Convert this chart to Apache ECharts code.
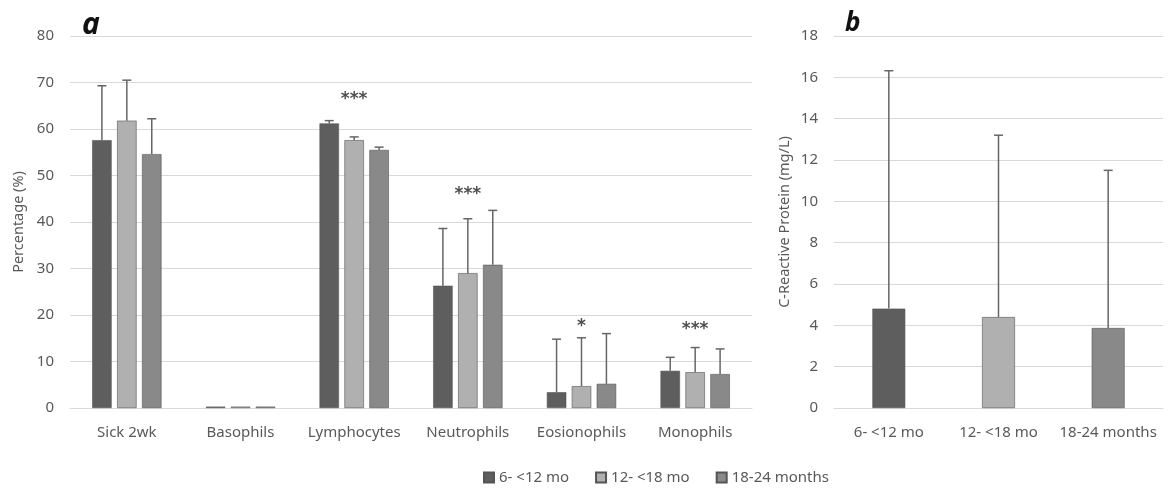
<!DOCTYPE html>
<html>
<head>
<meta charset="utf-8">
<script src="https://cdn.jsdelivr.net/npm/echarts@6/dist/echarts.min.js"></script>
<style>html,body{margin:0;padding:0;background:#fff}#c{width:1171px;height:489px}</style>
</head>
<body>
<div id="c"></div>
<script>
// ---- Data ----
const cellTypes = ['Sick 2wk','Basophils','Lymphocytes','Neutrophils','Eosionophils','Monophils'];
const groups = ['6- <12 mo','12- <18 mo','18-24 months'];
const mean6_12   = [57.6, 0.3, 61.2, 26.3, 3.4, 8.0];
const upper6_12  = [69.3, 0.3, 61.8, 38.6, 14.8, 10.9];
const mean12_18  = [61.8, 0.3, 57.6, 29.0, 4.7, 7.7];
const upper12_18 = [70.5, 0.3, 58.3, 40.7, 15.1, 13.0];
const mean18_24  = [54.6, 0.3, 55.5, 30.8, 5.2, 7.3];
const upper18_24 = [62.2, 0.3, 56.1, 42.5, 16.0, 12.7];
const sigCategories = ['Lymphocytes','Neutrophils','Eosionophils','Monophils'];
const sigMarks = ['***','***','*','***'];
const sigLevels = [66.3, 46.0, 17.6, 16.9];
const crpMean  = [4.81, 4.40, 3.87];
const crpUpper = [16.32, 13.2, 11.5];
const pctTicks = {min:0, max:80, interval:10};
const crpTicks = {min:0, max:18, interval:2};

const colors = ['#5e5e5e','#b0b0b0','#898989'];
const CAT_GAP = 0.39, BAR_GAP = 0.28;
const FONT = '"Noto Sans", "Open Sans", sans-serif';

function errSeries(name, upper, means, idx, n, xi, yi, catGap, barGap) {
  const data = means.map((m,i)=>[i, m, upper[i]]);
  return {
    type:'custom', name: name + ' err', xAxisIndex:xi, yAxisIndex:yi, z:5, silent:true,
    data,
    renderItem(params, api) {
      const band = api.size([1,0])[0];
      const usable = band*(1-catGap);
      const bw = usable/(n + (n-1)*barGap);
      const start = -usable/2;
      const off = start + idx*bw*(1+barGap) + bw/2;
      const c = api.coord([api.value(0), api.value(1)]);
      const t = api.coord([api.value(0), api.value(2)]);
      const x = c[0] + off;
      if (Math.abs(c[1]-t[1]) < 1) return null;
      return {type:'group', children:[
        {type:'line', shape:{x1:x,y1:c[1],x2:x,y2:t[1]}, style:{stroke:'#666',lineWidth:1.5}},
        {type:'line', shape:{x1:x-4.5,y1:t[1],x2:x+4.5,y2:t[1]}, style:{stroke:'#666',lineWidth:1.5}}
      ]};
    }
  };
}

const axisLabel = {color:'#595959', fontSize:15, fontFamily:FONT};
const series = [];
const means = [mean6_12, mean12_18, mean18_24];
const uppers = [upper6_12, upper12_18, upper18_24];
groups.forEach((g,i)=>{
  series.push({type:'bar', name:g, xAxisIndex:0, yAxisIndex:0, data:means[i],
    barGap:(BAR_GAP*100)+'%', barCategoryGap:(CAT_GAP*100)+'%',
    itemStyle:{color:colors[i], borderColor:'#555', borderWidth:0.6}});
});
groups.forEach((g,i)=>{
  series.push(errSeries(g, uppers[i], means[i], i, 3, 0, 0, CAT_GAP, BAR_GAP));
});
series.push({type:'scatter', xAxisIndex:0, yAxisIndex:0, symbolSize:0, silent:true, z:6,
  data: sigCategories.map((c,i)=>({value:[c, sigLevels[i]], label:{formatter:sigMarks[i]}})),
  label:{show:true, position:'inside', color:'#222', fontSize:17, fontWeight:'bold', fontFamily:'"DejaVu Sans", sans-serif', letterSpacing:1}
});
series.push({type:'bar', name:'CRP', xAxisIndex:1, yAxisIndex:1, barWidth:'30%',
  data: crpMean.map((v,i)=>({value:v, itemStyle:{color:colors[i]}})),
  itemStyle:{borderColor:'#555', borderWidth:0.6}});
series.push(errSeries('CRP', crpUpper, crpMean, 0, 1, 1, 1, 0.7, 0));

const chart = echarts.init(document.getElementById('c'));
chart.setOption({
  animation:false,
  backgroundColor:'#fff',
  title:[
    {text:'a', left:77, top:5, textStyle:{fontSize:30, fontWeight:'bold', fontStyle:'italic', color:'#111', fontFamily:'"Open Sans", sans-serif'}},
    {text:'b', left:840, top:6, textStyle:{fontSize:26, fontWeight:'bold', fontStyle:'italic', color:'#111', fontFamily:'"Open Sans", sans-serif'}}
  ],
  legend:{data:groups, left:478, top:465, itemWidth:10, itemHeight:10, itemGap:26, icon:'rect',
    textStyle:{color:'#595959', fontSize:15, fontFamily:FONT}},
  grid:[
    {left:70, right:419, top:36, bottom:81},
    {left:834, right:8, top:36, bottom:81}
  ],
  xAxis:[
    {type:'category', gridIndex:0, data:cellTypes, axisTick:{show:false},
      axisLine:{lineStyle:{color:'#d9d9d9'}}, axisLabel:{...axisLabel, margin:17, interval:0}},
    {type:'category', gridIndex:1, data:groups, axisTick:{show:false},
      axisLine:{lineStyle:{color:'#d9d9d9'}}, axisLabel:{...axisLabel, margin:17, interval:0}}
  ],
  yAxis:[
    {type:'value', gridIndex:0, ...pctTicks, name:'Percentage (%)', nameLocation:'middle', nameGap:42,
      nameTextStyle:{color:'#595959', fontSize:14.5, fontFamily:FONT},
      axisLine:{show:false}, axisTick:{show:false}, splitLine:{lineStyle:{color:'#d9d9d9'}},
      axisLabel:{...axisLabel, margin:16}},
    {type:'value', gridIndex:1, ...crpTicks, name:'C-Reactive Protein (mg/L)', nameLocation:'middle', nameGap:42,
      nameTextStyle:{color:'#595959', fontSize:14.5, fontFamily:FONT},
      axisLine:{show:false}, axisTick:{show:false}, splitLine:{lineStyle:{color:'#d9d9d9'}},
      axisLabel:{...axisLabel, margin:16}}
  ],
  series
});
</script>
</body>
</html>
